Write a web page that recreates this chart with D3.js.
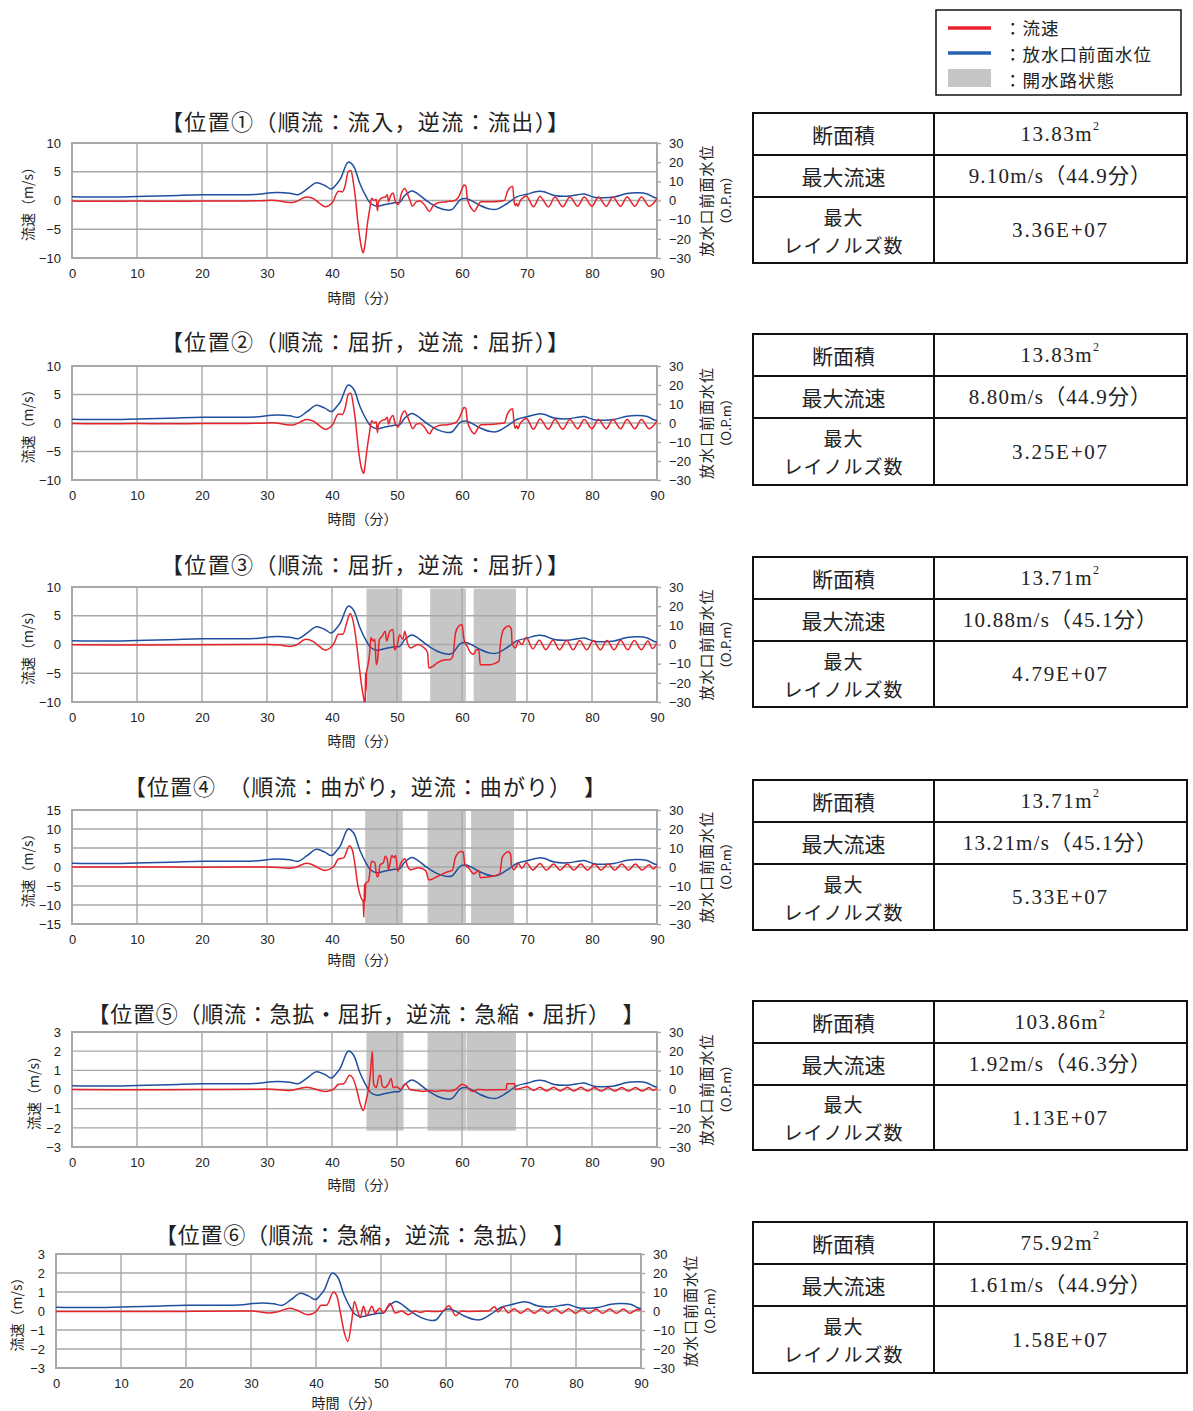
<!DOCTYPE html>
<html><head><meta charset="utf-8">
<script src="https://cdn.jsdelivr.net/npm/d3@7"></script>
<style>body{margin:0;background:#fff}</style></head>
<body><svg id="c" width="1193" height="1411"></svg>
<script>
// ---------- DATA ----------
const timeTicks=[0,10,20,30,40,50,60,70,80,90];
const levelTicks=[-30,-20,-10,0,10,20,30];
const speedTicksA=[-10,-5,0,5,10];
const speedTicksB=[-15,-10,-5,0,5,10,15];
const speedTicksC=[-3,-2,-1,0,1,2,3];

const titles=[
 "【位置①（順流：流入，逆流：流出）】",
 "【位置②（順流：屈折，逆流：屈折）】",
 "【位置③（順流：屈折，逆流：屈折）】",
 "【位置④　（順流：曲がり，逆流：曲がり）　】",
 "【位置⑤（順流：急拡・屈折，逆流：急縮・屈折）　】",
 "【位置⑥（順流：急縮，逆流：急拡）　】"
];
const tableLabels=["断面積","最大流速",["最大","レイノルズ数"]];
const areas=["13.83","13.83","13.71","13.71","103.86","75.92"];
const maxSpeeds=["9.10m/s（44.9分）","8.80m/s（44.9分）","10.88m/s（45.1分）","13.21m/s（45.1分）","1.92m/s（46.3分）","1.61m/s（44.9分）"];
const reynolds=["3.36E+07","3.25E+07","4.79E+07","5.33E+07","1.13E+07","1.58E+07"];
const legendLabels=["：流速","：放水口前面水位","：開水路状態"];

// water level at outlet (O.P.m), same in each panel
const level=[[0,2.0],[5,1.8],[10,2.1],[15,2.5],[20,3.0],[25,3.0],[28,3.1],[31.5,4.2],[33.5,3.8],[34.8,3.0],[36.1,5.8],[37.6,9.3],[38.9,7.8],[39.9,6.0],[40.7,8.5],[41.3,11.3],[42.5,20.0],[43.3,18.0],[44.3,8.7],[45.3,1.7],[46,-1.7],[46.9,-3.0],[48.2,-2.1],[49.6,-1.2],[50.4,-1.0],[51.2,2.6],[52.3,5.0],[53.2,3.5],[54.7,-0.5],[56.2,-3.5],[57.7,-5.0],[58.5,-4.6],[59.7,0.3],[60.5,1.0],[61.3,0.2],[62.8,-2.6],[64.4,-4.5],[65.4,-4.5],[66.9,-1.7],[68.5,2.0],[70,3.3],[71.8,4.8],[72.6,4.6],[74.2,2.6],[76.2,2.2],[77.8,3.0],[78.8,3.4],[80.3,1.7],[81.8,1.4],[83.4,1.8],[85.4,3.6],[87,4.0],[88.5,3.4],[89.5,1.7],[90,1.3]];

// flow speed (m/s) per position
const speed1=[[0,-0.1],[5,-0.15],[10,-0.1],[15,-0.12],[20,-0.1],[25,-0.1],[30,0],[31,0.05],[32,-0.1],[33,-0.3],[34,-0.35],[35,0.1],[36,0.6],[37,0.4],[38,-0.4],[39,-1.1],[39.5,-0.9],[40.2,-0.1],[40.7,1.2],[41,1.6],[41.6,1.5],[42,2.5],[42.5,5.0],[42.9,5.2],[43.3,3],[43.6,0.5],[44,-4],[44.5,-8],[44.8,-9.1],[45.1,-7.5],[45.4,-4.5],[45.8,-1.5],[46.1,0.4],[46.5,0],[46.8,0.2],[47,-1.8],[47.1,-0.5],[47.4,0.2],[47.8,0.5],[48.2,0.6],[48.5,1],[48.7,-0.2],[49,0.8],[49.4,1.3],[49.7,0],[50.2,-0.7],[50.7,1.3],[51.2,2.1],[51.6,1.2],[52,0],[52.4,-1],[53,-0.2],[53.5,-0.1],[54.2,-0.7],[55,-1.9],[55.5,-1],[56.3,-0.4],[57.6,-0.2],[58.9,0],[59.6,0.9],[60.1,2.3],[60.3,2.7],[60.6,2.5],[60.8,0.5],[61.4,-1.3],[61.9,-1.9],[62.4,-1],[62.9,-0.2],[64.8,-0.2],[66.5,0],[67,1.6],[67.8,2.5],[68,0],[68.2,-0.9],[68.4,-0.5],[68.6,-1],[68.9,-0.2],[69.5,0.6],[69.9,0.8],[71,-1.1],[72,0.7],[73.3,-1.1],[74.3,0.6],[75.5,-1.1],[76.6,0.6],[77.8,-1.0],[78.8,0.6],[80,-1.0],[81,0.6],[82.2,-1.0],[83.2,0.6],[84.4,-1.0],[85.4,0.6],[86.6,-1.0],[87.6,0.6],[88.8,-1.0],[90,0.3]];
const speed2=[[0,-0.1],[5,-0.12],[10,-0.1],[15,-0.12],[20,-0.1],[25,-0.1],[30,0],[31,0.05],[32,-0.1],[33,-0.3],[34,-0.35],[35,0.1],[36,0.6],[37,0.4],[38,-0.4],[39,-1.1],[39.5,-0.9],[40.2,-0.1],[40.7,1.2],[41,1.6],[41.6,1.5],[42,2.5],[42.5,5.0],[42.9,5.2],[43.3,3],[43.6,0.5],[44,-4],[44.5,-7.8],[44.9,-8.8],[45.1,-7.3],[45.4,-4.5],[45.8,-1.5],[46.1,0.4],[46.5,0],[46.8,0.2],[47,-1.7],[47.1,-0.5],[47.4,0.2],[47.8,0.5],[48.2,0.6],[48.5,1],[48.7,-0.2],[49,0.8],[49.4,1.3],[49.7,0],[50.2,-0.7],[50.7,1.3],[51.2,2.1],[51.6,1.2],[52,0],[52.4,-1],[53,-0.2],[53.5,-0.1],[54.2,-0.7],[55,-1.9],[55.5,-1],[56.3,-0.5],[57.6,-0.3],[58.9,0],[59.6,0.9],[60.1,2.3],[60.3,2.7],[60.6,2.5],[60.8,0.5],[61.4,-1.3],[61.9,-1.9],[62.4,-1],[62.9,-0.3],[64.8,-0.2],[66.5,0],[67,1.6],[67.8,2.5],[68,0],[68.2,-0.9],[68.4,-0.5],[68.6,-1],[68.9,-0.2],[69.5,0.6],[69.9,0.8],[71,-1.1],[72,0.7],[73.3,-1.1],[74.3,0.6],[75.5,-1.1],[76.6,0.6],[77.8,-1.0],[78.8,0.6],[80,-1.0],[81,0.6],[82.2,-1.0],[83.2,0.6],[84.4,-1.0],[85.4,0.6],[86.6,-1.0],[87.6,0.6],[88.8,-1.0],[90,0.3]];
const speed3=[[0,-0.05],[10,-0.1],[20,-0.05],[30,0],[32,-0.1],[33.5,-0.35],[34.5,-0.1],[36,0.9],[37,0.6],[38,-0.3],[39,-1.0],[39.7,-0.6],[40.3,0.2],[41,1.8],[41.7,1.8],[42.2,3.5],[42.8,5.4],[43.3,3.8],[43.8,0],[44.2,-4],[44.6,-7.5],[44.9,-9.5],[45.1,-10.88],[45.15,-5],[45.25,-8],[45.3,-5],[45.5,-3.8],[45.8,-1.4],[46,1.2],[46.3,0.6],[46.6,0.9],[46.8,-3.5],[47,-2.8],[47.3,0.9],[47.7,1.4],[48.2,2.3],[48.4,0.6],[48.9,2.3],[49.4,2.6],[49.6,-0.9],[50,-0.3],[50.4,1.7],[50.9,0.9],[51.2,2.3],[51.6,0.3],[52.1,-0.6],[53.2,0],[54.2,-0.6],[54.7,-1.4],[54.9,-4.1],[55.5,-3.8],[56.2,-3.2],[57.2,-2.7],[58.2,-2.6],[58.6,-2.0],[59,2.0],[59.5,3.2],[60,3.5],[60.3,0.9],[60.8,-0.3],[61.3,-1.4],[61.8,-1.7],[62.2,-0.9],[62.6,-0.9],[62.8,-3.5],[64.4,-3.5],[65.7,-2.9],[65.9,0],[66.4,2.6],[67.2,3.2],[67.6,2.6],[67.7,0.3],[68.2,-0.6],[68.7,0.6],[69.2,0],[69.9,1.2],[70.9,-0.75],[71.9,0.75],[72.9,-0.9],[74,0.75],[75,-0.9],[76.1,0.7],[77.1,-0.9],[78.1,0.7],[79.2,-0.9],[80.2,0.7],[81.3,-0.9],[82.3,0.7],[83.4,-0.9],[84.4,0.7],[85.5,-0.9],[86.5,0.7],[87.6,-0.9],[88.6,0.6],[89.3,-0.7],[90,0.3]];
const speed4=[[0,0],[10,0],[20,-0.05],[30,0],[33.5,-0.3],[34.5,0],[36.1,1.0],[37,0.6],[38.9,-0.9],[40.2,0],[41,2.1],[41.8,2.4],[42.7,5.6],[43.2,4.0],[43.5,1.0],[44,-5.1],[44.5,-8.2],[44.8,-9.1],[44.9,-13.2],[45.0,-4.5],[45.1,-9],[45.2,-4.2],[45.6,-3.8],[46.1,1.5],[46.6,1.1],[46.9,-2.5],[47.1,-2.5],[47.4,0.6],[47.9,1.1],[48.2,2.8],[48.5,2.0],[48.7,-0.7],[49.2,3.0],[49.5,2.5],[49.8,3.0],[50.1,-1.1],[50.6,1.0],[51.2,2.2],[51.6,0.3],[52.1,-0.7],[53.3,-0.2],[54.4,-0.9],[54.9,-3.4],[56.2,-2.5],[57.7,-1.3],[58.5,-0.9],[59,2.6],[59.8,4.1],[60.2,3.9],[60.4,0.9],[61.1,-0.4],[61.8,-1.8],[62.6,-0.9],[62.8,-2.8],[64.4,-2.5],[65.8,-1.8],[66.2,2.6],[67.2,4.0],[67.5,3.1],[67.6,0.5],[68,-0.7],[68.7,0.9],[69.2,-0.4],[69.9,1.1],[70.9,-0.8],[72,0.9],[73,-0.8],[74.1,0.8],[75.1,-0.8],[76.2,0.8],[77.2,-0.8],[78.3,0.8],[79.3,-0.8],[80.4,0.8],[81.4,-0.8],[82.5,0.8],[83.5,-0.8],[84.6,0.8],[85.6,-0.8],[86.7,0.8],[87.7,-0.8],[88.8,0.6],[89.4,-0.5],[90,0.3]];
const speed5=[[0,0],[10,-0.01],[20,0],[30,0.02],[33.5,-0.05],[36.1,0.12],[38.9,-0.1],[40.2,0],[41,0.27],[41.8,0.3],[42.7,0.75],[43.2,0.6],[43.8,0],[44.3,-0.7],[44.8,-1.1],[45.3,-0.5],[45.7,0.2],[45.9,0.8],[46.2,1.98],[46.4,0.3],[46.8,0.1],[47.3,0.75],[47.5,0.7],[47.7,0.2],[48.1,0.1],[48.7,0.3],[49.1,0.58],[49.4,0.1],[50,0.15],[50.5,0],[51.3,0.3],[52,0],[53,-0.05],[54,-0.1],[55,-0.05],[56,-0.1],[57,-0.05],[58,-0.08],[59,0],[60,0.28],[60.6,0.2],[61.6,-0.1],[62.5,0],[64,-0.02],[66.8,0],[66.9,0.3],[68.1,0.3],[68.2,0],[69,0.05],[70,0.15],[71,-0.05],[72,0.12],[73,-0.08],[74.1,0.12],[75.1,-0.08],[76.2,0.12],[77.2,-0.08],[78.3,0.12],[79.3,-0.08],[80.4,0.1],[81.4,-0.08],[82.5,0.1],[83.5,-0.08],[84.6,0.1],[85.6,-0.08],[86.7,0.1],[87.7,-0.08],[88.8,0.1],[89.4,-0.05],[90,0.05]];
const speed6=[[0,-0.03],[10,-0.03],[20,-0.02],[30,0],[32.9,-0.1],[34,-0.05],[36,0.15],[37,0.05],[38.8,-0.2],[40.1,0],[40.8,0.3],[41.6,0.3],[42.7,1.0],[43.2,0.8],[43.7,0],[44.4,-1.2],[44.9,-1.6],[45.5,-0.5],[45.9,0.5],[46.4,0],[46.8,-0.35],[47.3,0.25],[47.8,-0.25],[48.6,0.25],[49.1,-0.1],[49.8,0.15],[50.4,-0.1],[51.4,0.4],[52.2,-0.1],[53.2,0],[54.2,-0.2],[55.2,0],[56,-0.07],[57,0],[58,-0.03],[59.5,0],[60.4,0.28],[60.7,0.2],[61.5,-0.25],[62.4,0],[63.5,-0.02],[66.5,0],[67.5,0.22],[68,-0.05],[68.8,0.2],[69.6,-0.1],[70.5,0.12],[71.5,-0.12],[72.6,0.12],[73.6,-0.12],[74.7,0.12],[75.7,-0.12],[76.8,0.12],[77.8,-0.12],[78.9,0.12],[79.9,-0.12],[81,0.1],[82,-0.12],[83.1,0.1],[84.1,-0.12],[85.2,0.1],[86.2,-0.12],[87.3,0.1],[88.3,-0.12],[89.4,0.08],[90,0.05]];

// open-channel periods (minutes)
const bands3=[[45.3,50.8],[55.1,60.6],[61.8,68.3]];
const bands4=[[45.1,50.9],[54.7,60.6],[61.4,68.0]];
const bands5=[[45.3,51.0],[54.7,60.6],[60.7,68.3]];

// ---------- LAYOUT ----------
const RED="#e8232b", BLUE="#1f4f9e", BAND="#c6c6c6", GRID="#a8a8a8";
const panels=[
 {title:titles[0],speed:speed1,ticks:speedTicksA,bands:[],bandRange:null,x0:72,x1:657,yT:143,yB:258,tY:120,tX:365,tW:408,labX:27,xt:39,table:[113,155,197,263]},
 {title:titles[1],speed:speed2,ticks:speedTicksA,bands:[],bandRange:null,x0:72,x1:657,yT:366,yB:480,tY:340,tX:365,tW:408,labX:27,xt:38,table:[334,376,418,485]},
 {title:titles[2],speed:speed3,ticks:speedTicksA,bands:bands3,bandRange:[-10,9.7],x0:72,x1:657,yT:587,yB:702,tY:563,tX:365,tW:408,labX:27,xt:38,table:[557,599,641,707]},
 {title:titles[3],speed:speed4,ticks:speedTicksB,bands:bands4,bandRange:[-15,15],x0:72,x1:657,yT:810,yB:924,tY:785,tX:365,tW:482,labX:27,xt:35,table:[780,822,864,930]},
 {title:titles[4],speed:speed5,ticks:speedTicksC,bands:bands5,bandRange:[-2.15,3],x0:72,x1:657,yT:1032,yB:1147,tY:1012,tX:366,tW:557,labX:33,xt:37,table:[1001,1043,1085,1150]},
 {title:titles[5],speed:speed6,ticks:speedTicksC,bands:[],bandRange:null,x0:56,x1:641,yT:1254,yB:1368,tY:1233,tX:365,tW:420,labX:16,xt:34,table:[1222,1264,1306,1373]}
];
const JP="'Noto Sans CJK JP','Noto Sans',sans-serif";
const NUM="'Liberation Sans',Arial,sans-serif";
const SER="'Liberation Serif','Noto Sans CJK JP',serif";
const fmt=d3.format("d");

const svg=d3.select("#c");
svg.append("rect").attr("width",1193).attr("height",1411).attr("fill","#fff");

panels.forEach((p,i)=>{
  const g=svg.append("g");
  const x=d3.scaleLinear().domain([0,90]).range([p.x0,p.x1]);
  const m=d3.max(p.ticks);
  const yL=d3.scaleLinear().domain([-m,m]).range([p.yB,p.yT]);
  const yR=d3.scaleLinear().domain([-30,30]).range([p.yB,p.yT]);
  const cid="clip"+i;
  g.append("clipPath").attr("id",cid).append("rect")
    .attr("x",p.x0).attr("y",p.yT).attr("width",p.x1-p.x0).attr("height",p.yB-p.yT);

  if(p.bandRange){
    g.selectAll("rect.band").data(p.bands).join("rect").attr("class","band")
      .attr("x",d=>x(d[0])).attr("width",d=>x(d[1])-x(d[0]))
      .attr("y",yL(p.bandRange[1])).attr("height",yL(p.bandRange[0])-yL(p.bandRange[1]))
      .attr("fill",BAND);
  }
  g.selectAll("line.vg").data(timeTicks.slice(1,-1)).join("line")
    .attr("x1",d=>x(d)).attr("x2",d=>x(d)).attr("y1",p.yT).attr("y2",p.yB)
    .attr("stroke",GRID).attr("stroke-width",1.4);
  g.selectAll("line.hg").data(p.ticks.slice(1,-1)).join("line")
    .attr("y1",d=>yL(d)).attr("y2",d=>yL(d)).attr("x1",p.x0).attr("x2",p.x1)
    .attr("stroke",GRID).attr("stroke-width",1.4);
  g.append("rect").attr("x",p.x0).attr("y",p.yT).attr("width",p.x1-p.x0).attr("height",p.yB-p.yT)
    .attr("fill","none").attr("stroke",GRID).attr("stroke-width",2);

  const axL=g.append("g").attr("transform",`translate(${p.x0},0)`)
    .call(d3.axisLeft(yL).tickValues(p.ticks).tickFormat(fmt).tickSize(0).tickPadding(11));
  const axB=g.append("g").attr("transform",`translate(0,${p.yB})`)
    .call(d3.axisBottom(x).tickValues(timeTicks).tickFormat(fmt).tickSize(0).tickPadding(11));
  const axR=g.append("g").attr("transform",`translate(${p.x1},0)`)
    .call(d3.axisRight(yR).tickValues(levelTicks).tickFormat(fmt).tickSize(4).tickPadding(8));
  [axL,axB,axR].forEach(a=>{
    a.select(".domain").remove();
    a.selectAll("text").attr("font-family",NUM).attr("font-size",13).attr("fill","#222");
    a.selectAll("line").attr("stroke",GRID).attr("stroke-width",1.4);
  });

  const lineL=d3.line().x(d=>x(d[0])).y(d=>yR(d[1])).curve(d3.curveCatmullRom.alpha(0.5));
  const lineS=d3.line().x(d=>x(d[0])).y(d=>yL(d[1])).curve(d3.curveMonotoneX);
  const lg=g.append("g").attr("clip-path",`url(#${cid})`);
  lg.append("path").attr("d",lineL(level)).attr("fill","none").attr("stroke",BLUE).attr("stroke-width",1.5);
  lg.append("path").attr("d",lineS(p.speed)).attr("fill","none").attr("stroke",RED).attr("stroke-width",1.5);

  g.append("text").attr("x",p.tX).attr("y",p.tY).attr("text-anchor","middle").attr("dominant-baseline","central")
    .attr("font-family",JP).attr("font-size",22).attr("fill","#222")
    .attr("textLength",p.tW).attr("lengthAdjust","spacing").text(p.title);
  g.append("text").attr("x",(p.x0+p.x1)/2 - 2).attr("y",p.yB+p.xt).attr("text-anchor","middle").attr("dominant-baseline","central")
    .attr("font-family",JP).attr("font-size",14).attr("fill","#222").text("時間（分）");
  const cy=(p.yT+p.yB)/2;
  g.append("text").attr("transform",`translate(${p.labX},${cy}) rotate(-90)`).attr("text-anchor","middle")
    .attr("dominant-baseline","central").attr("font-family",JP).attr("font-size",14).attr("fill","#222").text("流速（m/s）");
  g.append("text").attr("transform",`translate(${p.x1+48},${cy}) rotate(-90)`).attr("text-anchor","middle")
    .attr("dominant-baseline","central").attr("font-family",JP).attr("font-size",15).attr("letter-spacing",1).attr("fill","#222").text("放水口前面水位");
  g.append("text").attr("transform",`translate(${p.x1+68},${cy}) rotate(-90)`).attr("text-anchor","middle")
    .attr("dominant-baseline","central").attr("font-family",JP).attr("font-size",13).attr("fill","#222").text("（O.P.m）");

  const [t0,t1,t2,t3]=p.table, tx0=753, tx1=1187, tm=934;
  const tg=svg.append("g");
  tg.append("rect").attr("x",tx0).attr("y",t0).attr("width",tx1-tx0).attr("height",t3-t0)
    .attr("fill","none").attr("stroke","#111").attr("stroke-width",2);
  tg.append("line").attr("x1",tm).attr("x2",tm).attr("y1",t0).attr("y2",t3).attr("stroke","#111").attr("stroke-width",2);
  [t1,t2].forEach(yy=>tg.append("line").attr("x1",tx0).attr("x2",tx1).attr("y1",yy).attr("y2",yy).attr("stroke","#111").attr("stroke-width",2));
  const lc=(tx0+tm)/2, rc=(tm+tx1)/2;
  const tt=(xx,yy,s,ff,ls,fs)=>tg.append("text").attr("x",xx).attr("y",yy).attr("text-anchor","middle")
    .attr("dominant-baseline","central").attr("font-family",ff).attr("font-size",fs||21).attr("letter-spacing",ls||0).attr("fill","#222").text(s);
  tt(lc,(t0+t1)/2,tableLabels[0],JP);
  tt(lc,(t1+t2)/2,tableLabels[1],JP);
  const mid=(t2+t3)/2;
  tt(lc,mid-14,tableLabels[2][0],JP,1,19);
  tt(lc,mid+14,tableLabels[2][1],JP,1,19);
  const a=tt(rc,(t0+t1)/2,areas[i]+"m",SER,1.5);
  a.append("tspan").attr("font-size",12).attr("dy",-8).text("2");
  tt(rc,(t1+t2)/2,maxSpeeds[i],SER,1.2);
  tt(rc,mid,reynolds[i],SER,1.8);
});

const lgd=svg.append("g");
lgd.append("rect").attr("x",936).attr("y",10).attr("width",245).attr("height",85).attr("fill","#fff").attr("stroke","#111").attr("stroke-width",1.5);
lgd.append("line").attr("x1",948).attr("x2",991).attr("y1",28).attr("y2",28).attr("stroke",RED).attr("stroke-width",3.5);
lgd.append("line").attr("x1",948).attr("x2",991).attr("y1",53).attr("y2",53).attr("stroke","#2a62b0").attr("stroke-width",3.5);
lgd.append("rect").attr("x",948).attr("y",69).attr("width",43).attr("height",18).attr("fill",BAND);
legendLabels.forEach((s,k)=>lgd.append("text").attr("x",1004).attr("y",[27,53,79][k]).attr("dominant-baseline","central")
  .attr("font-family",JP).attr("font-size",17.5).attr("letter-spacing",1).attr("fill","#222").text(s));
</script></body></html>
